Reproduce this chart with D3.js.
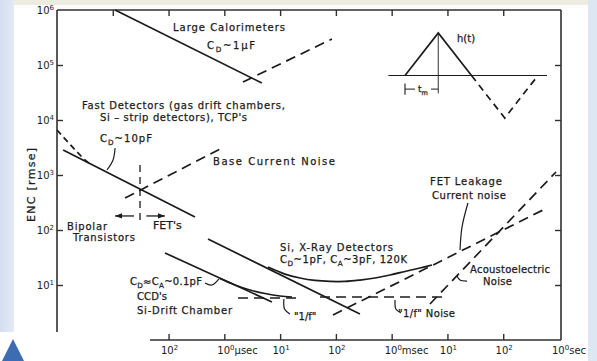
<!DOCTYPE html>
<html><head><meta charset="utf-8">
<script src="https://cdn.jsdelivr.net/npm/d3@7"></script>
<style>html,body{margin:0;padding:0;background:#fff;}svg{display:block}</style>
</head><body>
<svg id="chart" width="597" height="361"></svg>
<script>
// ---- axis ticks ----
const xTickValues = [1e-7, 1e-6, 1e-5, 1e-4, 1e-3, 1e-2, 1e-1, 1];
const xTickExps   = ["2", "0", "1", "2", "0", "1", "2", "0"];
const xTickUnits  = ["", "µsec", "", "", "msec", "", "", "sec"];
const yTickValues = [1e1, 1e2, 1e3, 1e4, 1e5, 1e6];
const yTickExps   = ["1", "2", "3", "4", "5", "6"];

// ---- noise curves: shaping time t_m [s] vs ENC [rms e] ----
const calSeriesT = [1.1e-8, 4.7e-6];
const calSeriesV = [1e6, 4.7e4];
const calParallelT = [2.16e-6, 8.5e-5];
const calParallelV = [4.9e4, 2.97e5];

const fastSeriesT = [1.29e-9, 2.98e-7];
const fastSeriesV = [2850, 172];
const bipolarShortT = [1e-9, 3.18e-9, 4.2e-9];
const bipolarShortV = [6580, 1875, 1520];
const baseCurrentT = [1.66e-8, 9.08e-7];
const baseCurrentV = [382, 3097];
const crossoverT = [3.08e-8, 3.08e-8];
const crossoverV = [1520, 140];

const xraySeriesT = [5.09e-7, 2.7e-4];
const xraySeriesV = [68.6, 2.97];
const xrayTotalT = [6.07e-6, 1.22e-5, 2.27e-5, 4.22e-5, 7.83e-5, 1.46e-4, 2.70e-4, 5.02e-4, 9.33e-4, 1.73e-3, 3.22e-3, 5.28e-3];
const xrayTotalV = [21.2, 15.8, 13.4, 12.1, 11.6, 11.6, 12.3, 13.4, 15.2, 17.6, 20.4, 23.1];
const xrayLeakageT = [8.87e-5, 0.61];
const xrayLeakageV = [2.85, 251];
const acoustoT = [4.86e-3, 0.883];
const acoustoV = [4.51, 1134];
const xrayOneFT = [5.19e-5, 7.98e-3];
const xrayOneFV = [6.05, 6.05];

const ccdSeriesT = [8.63e-8, 7.14e-6];
const ccdSeriesV = [38.2, 4.91];
const ccdTotalT = [8.36e-7, 1.55e-6, 2.88e-6, 5.36e-6, 9.95e-6, 1.63e-5];
const ccdTotalV = [13.1, 10.0, 8.11, 7.0, 6.31, 6.05];
const ccdOneFT = [1.76e-6, 2.09e-5];
const ccdOneFV = [5.8, 5.8];

// leader lines from labels to curves
const leadTenPfT = [1.1e-8, 1.01e-8, 7.87e-9];
const leadTenPfV = [3097, 1875, 1233];
const leadCcdT = [4.5e-7, 6.0e-7, 8.0e-7];
const leadCcdV = [10.9, 10.0, 12.9];
const leadCcdOneFT = [1.17e-5, 1.2e-5, 1.5e-5];
const leadCcdOneFV = [5.57, 3.66, 2.97];
const leadOneFT = [1.15e-3, 1.19e-3, 1.47e-3];
const leadOneFV = [5.34, 3.66, 3.1];
const leadLeakT = [0.0233, 0.01824, 0.0168];
const leadLeakV = [310, 113, 43.3];
const leadAcoustoT = [0.0224, 0.0168, 0.01483];
const leadAcoustoV = [11.8, 12.3, 14.6];

// weighting function h(t), time in units of t_m
const pulseUpT = [0, 1, 2];
const pulseUpH = [0, 1, 0];
const pulseDownT = [2, 3, 4];
const pulseDownH = [0, -1, 0];
const pulseBaseT = [-0.5, 4.27];

const zip = (a, b) => a.map((d, i) => [d, b[i]]);

const svg = d3.select("#chart");
const W = 597, H = 361;
const ink = "#1b1b1b";
const font = "'DejaVu Sans', sans-serif";

const defs = svg.append("defs");
const grad = defs.append("linearGradient").attr("id", "sideBlue").attr("x1", "0").attr("x2", "1");
grad.append("stop").attr("offset", "0").attr("stop-color", "#d2def0");
grad.append("stop").attr("offset", "1").attr("stop-color", "#e3eaf5");
defs.append("marker").attr("id", "arr").attr("viewBox", "0 0 8 6")
  .attr("markerWidth", 7).attr("markerHeight", 6).attr("refX", 8).attr("refY", 3)
  .attr("orient", "auto").attr("markerUnits", "userSpaceOnUse")
  .append("path").attr("d", "M0,0L8,3L0,6Z").attr("fill", ink);

// page background
svg.append("rect").attr("width", W).attr("height", H).attr("fill", "#fff");
svg.append("rect").attr("x", 0).attr("y", 0).attr("width", 14).attr("height", 332).attr("fill", "url(#sideBlue)");
svg.append("rect").attr("x", 588).attr("y", 0).attr("width", 9).attr("height", H).attr("fill", "#dde7f3");
svg.append("path").attr("d", "M13,339L2,361L24,361Z").attr("fill", "#3e6cb2");

// scales
const x = d3.scaleLog().domain([1e-9, 1]).range([57, 559]);
const y = d3.scaleLog().domain([1, 1e6]).range([340, 10]);

const g = svg.append("g");

// frame
const frame = g.append("g").attr("stroke", "#303030").attr("stroke-width", 1.6).attr("fill", "none");
frame.append("line").attr("x1", x(1e-9)).attr("x2", x(1e-9)).attr("y1", y(1e6)).attr("y2", 332);
frame.append("line").attr("x1", x(1e-9)).attr("x2", x(1) + 2).attr("y1", y(1e6)).attr("y2", y(1e6));
frame.append("line").attr("x1", x(1) + 2).attr("x2", x(1) + 2).attr("y1", y(1e6)).attr("y2", y(1));
frame.append("line").attr("x1", 150).attr("x2", x(1) + 2).attr("y1", y(1)).attr("y2", y(1));

function tickAxis(gen, tx, ty) {
  const a = g.append("g").attr("transform", `translate(${tx},${ty})`).call(gen);
  a.select(".domain").remove();
  a.selectAll("line").attr("stroke", "#303030").attr("stroke-width", 1.4);
  a.selectAll("text").remove();
}
const inner = yTickValues.filter(v => v < 1e6);
tickAxis(d3.axisLeft(y).tickValues(inner).tickSize(-6), x(1e-9), 0);
tickAxis(d3.axisRight(y).tickValues(inner).tickSize(-6), x(1) + 2, 0);
tickAxis(d3.axisTop(x).tickValues([1e-8].concat(xTickValues.slice(0, -1))).tickSize(-6), 0, y(1e6));
tickAxis(d3.axisBottom(x).tickValues(xTickValues.slice(0, -1)).tickSize(-6), 0, y(1));

// tick labels
const yLab = g.append("g").attr("font-family", font).attr("font-size", 10).attr("fill", ink);
yTickValues.forEach((v, i) => {
  const t = yLab.append("text").attr("x", 54).attr("y", y(v) + 4).attr("text-anchor", "end");
  t.append("tspan").text("10");
  t.append("tspan").attr("font-size", 7).attr("dy", -4).text(yTickExps[i]);
});
const xLab = g.append("g").attr("font-family", font).attr("font-size", 10).attr("fill", ink);
xTickValues.forEach((v, i) => {
  const unit = xTickUnits[i];
  const t = xLab.append("text").attr("y", 354)
    .attr("x", unit ? x(v) - 7 : x(v) + 1)
    .attr("text-anchor", unit ? "start" : "middle");
  t.append("tspan").text("10");
  t.append("tspan").attr("font-size", 7).attr("dy", -4).text(xTickExps[i]);
  if (unit) t.append("tspan").attr("dy", 4).text(unit);
});

// axis title
g.append("text").attr("transform", "translate(35,185) rotate(-90)")
  .attr("text-anchor", "middle").attr("font-family", font).attr("font-size", 11)
  .attr("fill", ink).attr("stroke", ink).attr("stroke-width", 0.25)
  .attr("textLength", 74).attr("lengthAdjust", "spacing")
  .text("ENC [rmse]");

// curves
const straight = d3.line().x(d => x(d[0])).y(d => y(d[1]));
const smooth = d3.line().curve(d3.curveCatmullRom.alpha(0.5)).x(d => x(d[0])).y(d => y(d[1]));
const dashLong = "10,6";
const curves = [
  { d: zip(calSeriesT, calSeriesV) },
  { d: zip(calParallelT, calParallelV), dash: dashLong },
  { d: zip(fastSeriesT, fastSeriesV) },
  { d: zip(bipolarShortT, bipolarShortV), dash: "6,4", gen: smooth },
  { d: zip(baseCurrentT, baseCurrentV), dash: dashLong },
  { d: zip(crossoverT, crossoverV), dash: "7,5", w: 1.3 },
  { d: zip(xraySeriesT, xraySeriesV) },
  { d: zip(xrayTotalT, xrayTotalV), gen: smooth },
  { d: zip(xrayLeakageT, xrayLeakageV), dash: dashLong },
  { d: zip(acoustoT, acoustoV), dash: dashLong },
  { d: zip(xrayOneFT, xrayOneFV), dash: dashLong },
  { d: zip(ccdSeriesT, ccdSeriesV) },
  { d: zip(ccdTotalT, ccdTotalV), gen: smooth },
  { d: zip(ccdOneFT, ccdOneFV), dash: dashLong }
];
const cg = g.append("g").attr("fill", "none").attr("stroke", ink);
curves.forEach(c => {
  cg.append("path").attr("d", (c.gen || straight)(c.d))
    .attr("stroke-width", c.w || 1.7)
    .attr("stroke-dasharray", c.dash || null);
});

// leaders
[[leadTenPfT, leadTenPfV], [leadCcdT, leadCcdV], [leadCcdOneFT, leadCcdOneFV],
 [leadOneFT, leadOneFV], [leadLeakT, leadLeakV], [leadAcoustoT, leadAcoustoV]]
  .forEach(([t, v]) => {
    cg.append("path").attr("d", smooth(zip(t, v))).attr("stroke-width", 1.2);
  });

// bipolar / FET region arrows
cg.append("line").attr("x1", x(2.4e-8)).attr("x2", x(1.1e-8)).attr("y1", y(180)).attr("y2", y(180))
  .attr("stroke-width", 1.3).attr("marker-end", "url(#arr)");
cg.append("line").attr("x1", x(4.0e-8)).attr("x2", x(8.6e-8)).attr("y1", y(180)).attr("y2", y(180))
  .attr("stroke-width", 1.3).attr("marker-end", "url(#arr)");

// weighting-function inset
const ix = d3.scaleLinear().domain([0, 4]).range([405, 538]);
const iy = d3.scaleLinear().domain([-1, 1]).range([118, 33]);
const pulse = d3.line().x(d => ix(d[0])).y(d => iy(d[1]));
const ig = g.append("g").attr("fill", "none").attr("stroke", ink);
ig.append("path").attr("d", pulse(pulseBaseT.map(t => [t, 0]))).attr("stroke-width", 1.2);
ig.append("path").attr("d", pulse(zip(pulseUpT, pulseUpH))).attr("stroke-width", 1.7);
ig.append("path").attr("d", pulse(zip(pulseDownT, pulseDownH))).attr("stroke-width", 1.7).attr("stroke-dasharray", "7,5");
ig.append("line").attr("x1", ix(1)).attr("x2", ix(1)).attr("y1", iy(1)).attr("y2", iy(-0.42)).attr("stroke-width", 0.9);
ig.append("line").attr("x1", ix(0)).attr("x2", ix(0)).attr("y1", iy(-0.19)).attr("y2", iy(-0.45)).attr("stroke-width", 1.1);
ig.append("line").attr("x1", ix(0)).attr("x2", ix(0.3)).attr("y1", iy(-0.32)).attr("y2", iy(-0.32)).attr("stroke-width", 1);
ig.append("line").attr("x1", ix(0.78)).attr("x2", ix(1)).attr("y1", iy(-0.32)).attr("y2", iy(-0.32)).attr("stroke-width", 1);

// annotation text (w: fitted width for the longer lines)
const labels = [
  { x: 173, y: 31, w: 112, parts: [["Large Calorimeters"]] },
  { x: 207, y: 49, w: 48, parts: [["C"], ["D", "sub"], ["~1µF"]] },
  { x: 82, y: 109, w: 203, parts: [["Fast Detectors (gas drift chambers,"]] },
  { x: 100, y: 121, w: 147, parts: [["Si – strip detectors), TCP's"]] },
  { x: 100, y: 142, w: 52, parts: [["C"], ["D", "sub"], ["~10pF"]] },
  { x: 213, y: 165, w: 122, parts: [["Base Current Noise"]] },
  { x: 67, y: 230, w: 40, parts: [["Bipolar"]] },
  { x: 73, y: 241, w: 62, parts: [["Transistors"]] },
  { x: 153, y: 229, size: 11, parts: [["FET's"]] },
  { x: 130, y: 285, w: 72, parts: [["C"], ["D", "sub"], ["≈C"], ["A", "sub"], ["~0.1pF"]] },
  { x: 137, y: 300, w: 30, parts: [["CCD's"]] },
  { x: 137, y: 314, w: 95, parts: [["Si-Drift Chamber"]] },
  { x: 294, y: 320, parts: [["\"1/f\""]] },
  { x: 280, y: 251, w: 113, parts: [["Si, X-Ray Detectors"]] },
  { x: 280, y: 263, w: 127, parts: [["C"], ["D", "sub"], ["~1pF, C"], ["A", "sub"], ["~3pF, 120K"]] },
  { x: 430, y: 185, w: 72, parts: [["FET Leakage"]] },
  { x: 432, y: 199, w: 74, parts: [["Current noise"]] },
  { x: 470, y: 273, w: 80, parts: [["Acoustoelectric"]] },
  { x: 483, y: 285, w: 29, parts: [["Noise"]] },
  { x: 398, y: 317, w: 57, parts: [["\"1/f\" Noise"]] },
  { x: 457, y: 42, parts: [["h(t)"]] },
  { x: 418, y: 92, size: 9, parts: [["t"], ["m", "sub"]] }
];
const tg = g.append("g").attr("font-family", font).attr("fill", ink)
  .attr("stroke", ink).attr("stroke-width", 0.25);
labels.forEach(L => {
  const t = tg.append("text").attr("x", L.x).attr("y", L.y)
    .attr("font-size", L.size || 10);
  if (L.w) t.attr("textLength", L.w).attr("lengthAdjust", "spacing");
  let shifted = false;
  L.parts.forEach(([s, kind]) => {
    const sp = t.append("tspan").text(s);
    if (kind === "sub") { sp.attr("font-size", "0.72em").attr("dy", 3); shifted = true; }
    else if (shifted) { sp.attr("dy", -3); shifted = false; }
  });
});

// top strip of the page
svg.append("rect").attr("x", 14).attr("y", 0).attr("width", 574).attr("height", 5).attr("fill", "#eeebe0");
</script>
</body></html>
